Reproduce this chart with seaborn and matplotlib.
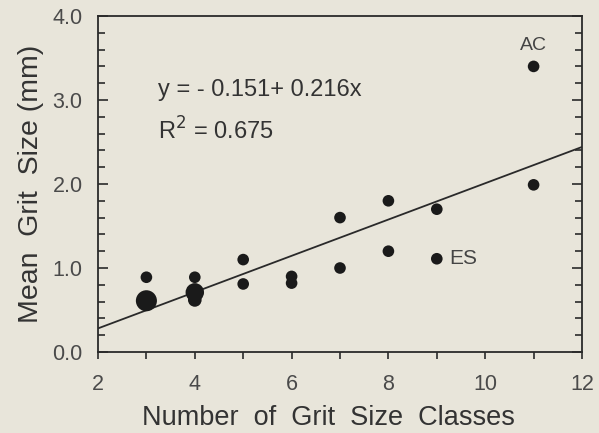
import matplotlib
matplotlib.use("Agg")
import matplotlib.pyplot as plt
import seaborn as sns
import numpy as np
import pandas as pd
from matplotlib.ticker import MultipleLocator

# Data
classes = [3, 3, 4, 4, 4, 5, 5, 6, 6, 7, 7, 8, 8, 9, 9, 11, 11]
mean_size = [0.61, 0.89, 0.71, 0.62, 0.89, 0.81, 1.10, 0.90, 0.82, 1.60, 1.00, 1.80, 1.20, 1.70, 1.11, 1.99, 3.40]
point_size = [2.2, 1, 1.8, 1.2, 1, 1, 1, 1, 1, 1, 1, 1, 1, 1, 1, 1, 1]
intercept = -0.151
slope = 0.216
fit_x = [2, 12]
labels = {"AC": (11, 3.40), "ES": (9, 1.11)}

bg = "#e8e5da"
sns.set_theme(style="ticks")
plt.rcParams['font.family'] = ['Liberation Sans', 'DejaVu Sans']

fig = plt.figure(figsize=(5.99, 4.33), dpi=100, facecolor=bg)
ax = fig.add_axes([98/599, 1-352/433, (582-98)/599, (352-16)/433])
ax.set_facecolor(bg)

df = pd.DataFrame({"x": classes, "y": mean_size, "s": point_size})
sns.scatterplot(data=df, x="x", y="y", size="s", sizes=(70, 230), color="#1a1a1a",
                edgecolor="none", legend=False, ax=ax, zorder=3)
fx = np.array(fit_x, dtype=float)
sns.lineplot(x=fx, y=intercept + slope * fx, color="#2a2a2a", lw=1.3, ax=ax)

ax.set_xlim(2, 12)
ax.set_ylim(0, 4)
ax.xaxis.set_major_locator(MultipleLocator(2))
ax.xaxis.set_minor_locator(MultipleLocator(1))
ax.yaxis.set_major_locator(MultipleLocator(1))
ax.yaxis.set_minor_locator(MultipleLocator(0.2))
ax.yaxis.set_major_formatter(matplotlib.ticker.FormatStrFormatter("%.1f"))
ax.tick_params(axis="x", which="both", direction="out", length=5, width=1.2, colors="#2a2a2a",
               labelcolor="#4a4a4a", labelsize=15.5, top=False, pad=11)
ax.tick_params(axis="y", which="both", direction="in", left=True, right=True, width=1.2,
               colors="#2a2a2a", labelcolor="#4a4a4a", labelsize=15.5, pad=11)
ax.tick_params(axis="y", which="major", length=7)
ax.tick_params(axis="y", which="minor", length=5)
for sp in ax.spines.values():
    sp.set_visible(True)
    sp.set_color("#2a2a2a")
    sp.set_linewidth(1.3)

ax.set_xlabel("Number  of  Grit  Size  Classes", fontsize=19.5, color="#333333", va="top")
ax.xaxis.set_label_coords(0.477, -0.158)
ax.set_ylabel("Mean  Grit  Size (mm)", fontsize=20.5, color="#333333", labelpad=6)

ax.text(3.23, 3.12, "y = - 0.151+ 0.216x", fontsize=17, color="#333333", va="center")
ax.text(3.23, 2.63, "R$^2$ = 0.675", fontsize=17, color="#333333", va="center")
ax.text(labels["AC"][0], labels["AC"][1] + 0.25, "AC", fontsize=14, color="#444444", ha="center", va="center")
ax.text(labels["ES"][0] + 0.25, labels["ES"][1], "ES", fontsize=15, color="#444444", ha="left", va="center")

fig.savefig("out.png", dpi=100, facecolor=bg)
